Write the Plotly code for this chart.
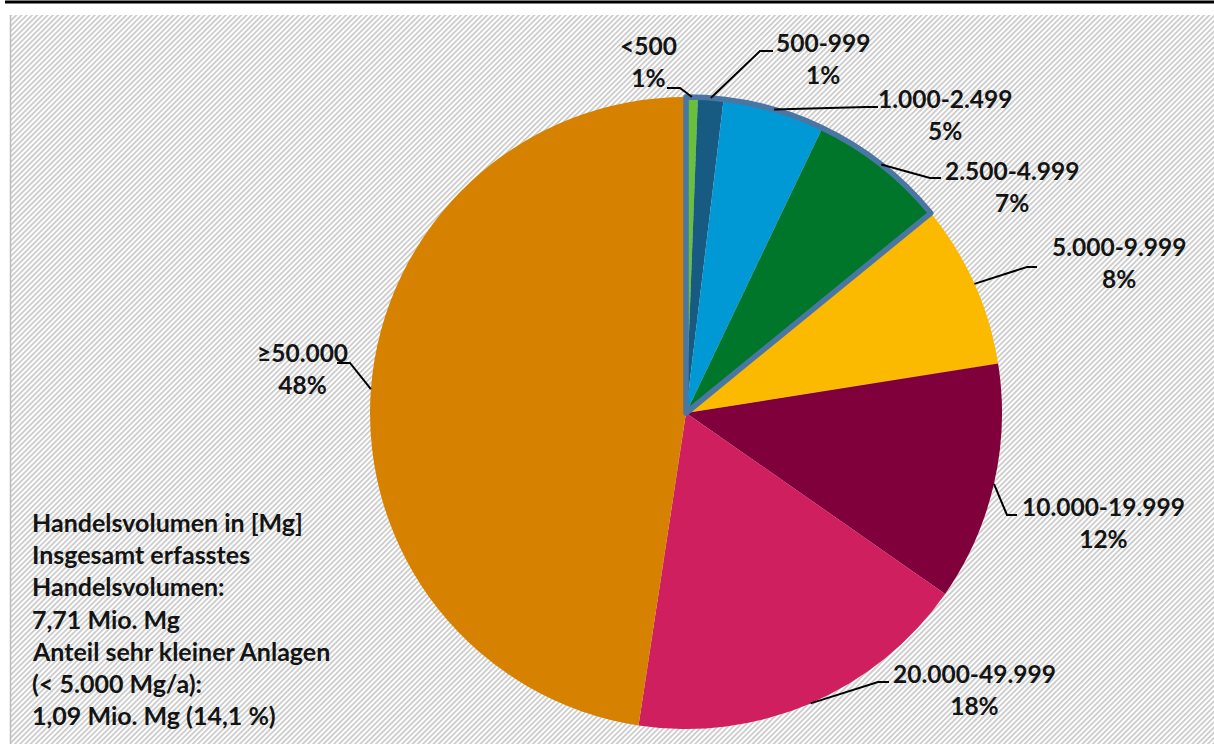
import base64
import math

import plotly.graph_objects as go

# Share of total recorded trade volume per plant size class (Mg/a)
categories = ["<500", "500-999", "1.000-2.499", "2.500-4.999",
              "5.000-9.999", "10.000-19.999", "20.000-49.999", "≥50.000"]
shares = [0.6, 1.3, 5.2, 7.0, 8.4, 12.2, 17.7, 47.6]
colors = ["#6ABF3B", "#175A82", "#0099D5", "#00762B",
          "#FBBA00", "#80003C", "#CF1F5F", "#D68200"]
n_small = 4  # classes below 5.000 Mg/a, outlined as one group

info_lines = [
    "Handelsvolumen in [Mg]",
    "Insgesamt erfasstes",
    "Handelsvolumen:",
    "7,71 Mio. Mg",
    "Anteil sehr kleiner Anlagen",
    "(< 5.000 Mg/a):",
    "1,09 Mio. Mg (14,1 %)",
]

# ---- page geometry (pixels) ----
W, H = 1214, 744
CX, CY, R = 686, 413, 316          # pie centre and radius
BOX_X0, BOX_Y0 = 10, 15            # hatched panel origin

# label block centres and leader-line elbow/end points, one per class
label_pos = [(648, 61), (823, 58), (945, 115), (1012, 186),
             (1119, 262), (1103, 522), (974, 689), (302, 368)]
leader_elbow = [(680, 88), (760, 51), (866, 107), (930, 178),
                (1027, 267), (1007, 515), (878, 682), (350, 363)]
leader_end = [(667, 88), (773, 51), (878, 107), (941, 178),
              (1037, 267), (1017, 515), (889, 682), (337, 363)]

TEXT_COLOR = "#141414"
FONT = "Lato"


def px(x):
    return x / W


def py(y):
    return 1 - y / H


dom_x = [px(CX - R), px(CX + R)]
dom_y = [py(CY + R), py(CY - R)]

fig = go.Figure()

fig.add_trace(go.Pie(
    labels=categories, values=shares, sort=False, direction="clockwise",
    rotation=0, domain=dict(x=dom_x, y=dom_y),
    marker=dict(colors=colors, line=dict(width=0)),
    textinfo="none", hoverinfo="label+percent", showlegend=False,
))

# steel-blue outline around the small plant classes (< 5.000 Mg/a)
small_total = sum(shares[:n_small])
rest_total = sum(shares[n_small:])
fig.add_trace(go.Pie(
    labels=["< 5.000", "≥ 5.000"], values=[small_total, rest_total],
    sort=False, direction="clockwise", rotation=0,
    domain=dict(x=dom_x, y=dom_y),
    marker=dict(colors=["rgba(0,0,0,0)", "rgba(0,0,0,0)"],
                line=dict(color=["#4A76A3", "rgba(0,0,0,0)"], width=[5.5, 0])),
    textinfo="none", hoverinfo="skip", showlegend=False,
))

# ---- data labels with leader lines ----
total = sum(shares)
annotations = []
shapes = []
cum = 0.0
for i, (cat, v) in enumerate(zip(categories, shares)):
    mid = (cum + v / 2) / total * 2 * math.pi
    cum += v
    ax = CX + R * math.sin(mid)
    ay = CY - R * math.cos(mid)
    ex, ey = leader_elbow[i]
    tx, ty = leader_end[i]
    path = (f"M {px(ax)} {py(ay)} L {px(ex)} {py(ey)} L {px(tx)} {py(ty)}")
    shapes.append(dict(type="path", path=path, xref="paper", yref="paper",
                       line=dict(color="black", width=2), layer="above"))
    pct = round(v / total * 100)
    lx, ly = label_pos[i]
    annotations.append(dict(
        text=f"<b>{cat}<br>{pct}%</b>", x=px(lx), y=py(ly),
        xref="paper", yref="paper", xanchor="center", yanchor="middle",
        align="center", showarrow=False,
        font=dict(family=FONT, size=24.5, color=TEXT_COLOR),
    ))

# ---- info text block ----
for k, line in enumerate(info_lines):
    annotations.append(dict(
        text=f"<b>{line}</b>", x=px(30), y=py(522 + 32.2 * k),
        xref="paper", yref="paper", xanchor="left", yanchor="middle",
        align="left", showarrow=False,
        font=dict(family=FONT, size=25, color=TEXT_COLOR),
    ))

# ---- frame: top rule and left panel border ----
shapes.append(dict(type="rect", xref="paper", yref="paper",
                   x0=px(5), x1=px(W), y0=py(0.5), y1=py(3.5),
                   fillcolor="black", line=dict(width=0), layer="above"))
shapes.append(dict(type="line", xref="paper", yref="paper",
                   x0=px(BOX_X0 + 0.5), x1=px(BOX_X0 + 0.5),
                   y0=py(BOX_Y0), y1=py(H),
                   line=dict(color="#BDBDBD", width=1.5), layer="above"))

# ---- diagonal hatch background of the panel ----
bw, bh = W - BOX_X0, H - BOX_Y0
hatch_svg = (
    f'<svg xmlns="http://www.w3.org/2000/svg" width="{bw}" height="{bh}" '
    f'viewBox="0 0 {bw} {bh}" preserveAspectRatio="none">'
    '<defs><pattern id="h" width="3.7" height="3.7" patternUnits="userSpaceOnUse" '
    'patternTransform="rotate(45)">'
    '<rect x="0" y="0" width="1.7" height="3.7" fill="#CACACA"/></pattern></defs>'
    '<rect width="100%" height="100%" fill="white"/>'
    '<rect width="100%" height="100%" fill="url(#h)"/></svg>'
)
hatch_uri = "data:image/svg+xml;base64," + base64.b64encode(hatch_svg.encode()).decode()

fig.update_layout(
    width=W, height=H,
    margin=dict(l=0, r=0, t=0, b=0),
    paper_bgcolor="white", plot_bgcolor="white",
    showlegend=False,
    annotations=annotations,
    shapes=shapes,
    images=[dict(source=hatch_uri, xref="paper", yref="paper",
                 x=px(BOX_X0), y=py(BOX_Y0), sizex=bw / W, sizey=bh / H,
                 xanchor="left", yanchor="top", sizing="stretch",
                 layer="below")],
)

fig.write_html("out.html")
